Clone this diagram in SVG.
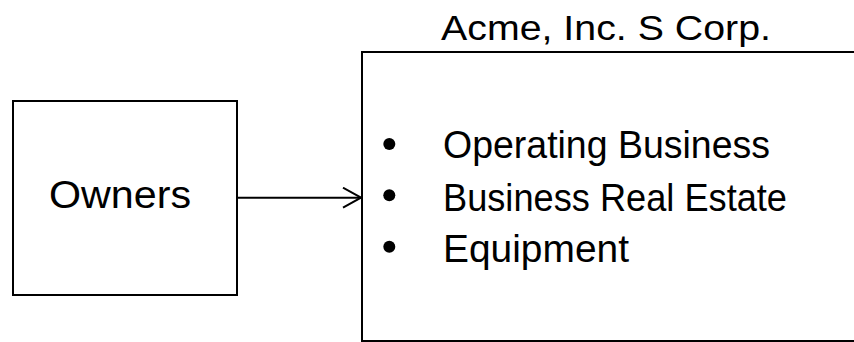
<svg xmlns="http://www.w3.org/2000/svg" width="854" height="342" viewBox="0 0 854 342">
<style>
.box{fill:#ffffff;stroke:#000000;stroke-width:2}
.t{font-family:"Liberation Sans",Arial,sans-serif;fill:#000000}
.conn{fill:none;stroke:#000000;stroke-width:2}
</style>
<defs>
<marker id="arr" markerWidth="20" markerHeight="24" refX="19" refY="11" orient="auto" markerUnits="userSpaceOnUse">
<path d="M1,1 L19,11 L1,21" fill="none" stroke="#000" stroke-width="2"/>
</marker>
</defs>
<rect width="854" height="342" fill="#ffffff"/>
<g id="owners">
<rect class="box" x="13" y="101" width="224" height="194"/>
<text class="t" x="49" y="208" font-size="38" textLength="142" lengthAdjust="spacingAndGlyphs">Owners</text>
</g>
<g id="acme">
<text class="t" x="441" y="40" font-size="35" textLength="330" lengthAdjust="spacingAndGlyphs">Acme, Inc. S Corp.</text>
<rect class="box" x="362" y="52" width="500" height="289"/>
<circle cx="389.3" cy="144" r="6"/>
<circle cx="389.3" cy="195.3" r="6"/>
<circle cx="389.3" cy="246.7" r="6"/>
<text class="t" x="443" y="158.3" font-size="38" textLength="327" lengthAdjust="spacingAndGlyphs">Operating Business</text>
<text class="t" x="443" y="210.7" font-size="38" textLength="344" lengthAdjust="spacingAndGlyphs">Business Real Estate</text>
<text class="t" x="443" y="261.7" font-size="38" textLength="186" lengthAdjust="spacingAndGlyphs">Equipment</text>
</g>
<g id="connectors">
<line class="conn" x1="237" y1="197.7" x2="361" y2="197.7" marker-end="url(#arr)"/>
</g>
</svg>
